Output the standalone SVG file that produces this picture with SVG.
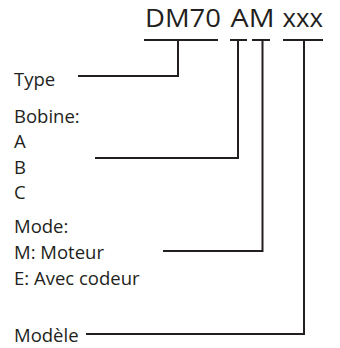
<svg xmlns="http://www.w3.org/2000/svg" width="340" height="348" viewBox="0 0 340 348">
<style>
text{font-family:"Open Sans","Noto Sans",sans-serif;fill:#231f20}
.t{font-size:18.5px}
.h{font-size:25.5px}
.c{fill:none;stroke:#231f20;stroke-width:2}
</style>
<rect width="340" height="348" fill="#fff"/>
<g id="title">
<text class="h" y="27"><tspan x="145" textLength="76" lengthAdjust="spacingAndGlyphs">DM70</tspan> <tspan x="230.5" textLength="44" lengthAdjust="spacingAndGlyphs">AM</tspan> <tspan x="282.5" textLength="40.5" lengthAdjust="spacingAndGlyphs">xxx</tspan></text>
</g>
<g id="type"><text class="t" x="14" y="86">Type</text></g>
<g id="bobine">
<text class="t" x="14" y="123">Bobine:</text>
<text class="t" x="14" y="148">A</text>
<text class="t" x="14" y="173.5">B</text>
<text class="t" x="14" y="198.5">C</text>
</g>
<g id="mode">
<text class="t" x="14" y="233">Mode:</text>
<text class="t" x="14" y="259">M: Moteur</text>
<text class="t" x="14" y="285">E: Avec codeur</text>
</g>
<g id="modele"><text class="t" x="14" y="342">Modèle</text></g>
<g id="connectors" class="c">
<path d="M144 40H218M230 40H247M252 40H270M283 40H323"/>
<path d="M178 40V76H78"/>
<path d="M238 40V158H95"/>
<path d="M262.5 40V251H163"/>
<path d="M304 40V334H86"/>
</g>
</svg>
